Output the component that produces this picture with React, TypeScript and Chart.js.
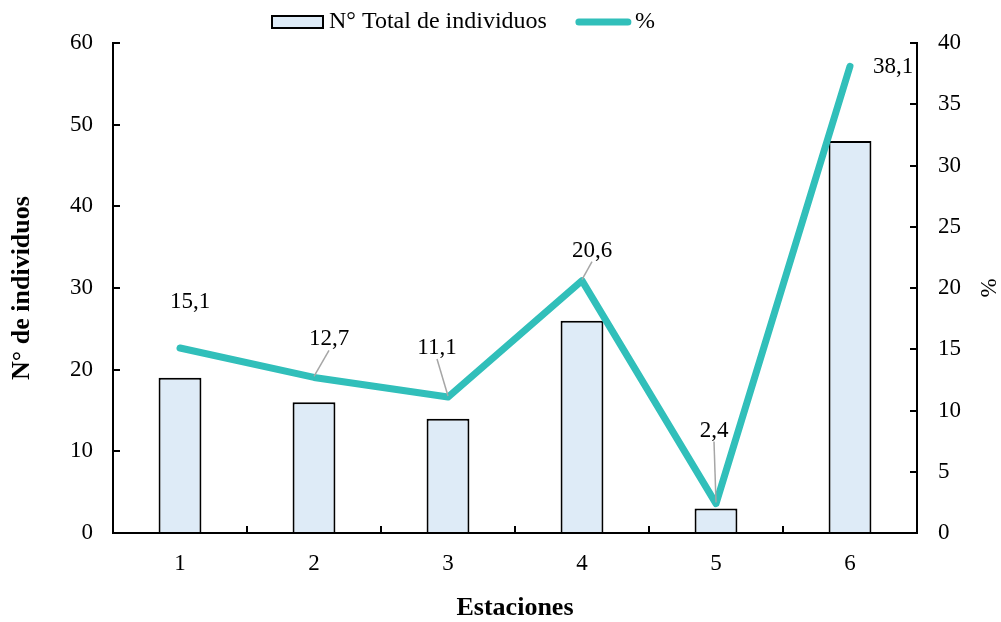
import React, { useEffect, useRef } from "react";
import { Chart, registerables } from "chart.js";

Chart.register(...registerables);

const categories = ["1", "2", "3", "4", "5", "6"];
const totalIndividuos = [19, 16, 14, 26, 3, 48];
const porcentaje = [15.1, 12.7, 11.1, 20.6, 2.4, 38.1];
const barLabel = "N° Total de individuos";
const lineLabel = "%";
const leftTitle = "N° de individuos";
const rightTitle = "%";
const xTitle = "Estaciones";

// label placement (text centre offset from point, optional leader line)
const labelOffsets = [
  { dx: 10, dy: -46, leader: false },
  { dx: 15, dy: -38, leader: true },
  { dx: -11, dy: -49, leader: true },
  { dx: 10, dy: -30, leader: true },
  { dx: -2, dy: -73, leader: true },
  { dx: 43, dy: 1, leader: false },
];

const FONT = "'Liberation Serif', 'Times New Roman', serif";
const TEAL = "#31BFBA";
const BAR_FILL = "#DEEBF7";

const overlayPlugin = {
  id: "overlay",
  afterDatasetsDraw(chart: any) {
    const ctx = chart.ctx;
    const meta = chart.getDatasetMeta(0);
    ctx.save();
    ctx.font = `23px ${FONT}`;
    ctx.textAlign = "center";
    ctx.textBaseline = "middle";
    meta.data.forEach((pt: any, i: number) => {
      const o = labelOffsets[i];
      const tx = pt.x + o.dx;
      const ty = pt.y + o.dy;
      if (o.leader) {
        ctx.strokeStyle = "#A6A6A6";
        ctx.lineWidth = 1.5;
        ctx.beginPath();
        ctx.moveTo(tx, ty + 11);
        ctx.lineTo(pt.x, pt.y - 1);
        ctx.stroke();
      }
      ctx.fillStyle = "#000";
      ctx.fillText(porcentaje[i].toFixed(1).replace(".", ","), tx, ty);
    });
    ctx.restore();
  },
  afterDraw(chart: any) {
    const ctx = chart.ctx;
    ctx.save();
    // legend
    ctx.font = `24px ${FONT}`;
    ctx.textBaseline = "middle";
    ctx.textAlign = "left";
    const ly = 22;
    const x0 = 272;
    ctx.fillStyle = BAR_FILL;
    ctx.fillRect(x0, ly - 6, 51, 12);
    ctx.strokeStyle = "#000";
    ctx.lineWidth = 2;
    ctx.strokeRect(x0, ly - 6, 51, 12);
    ctx.fillStyle = "#000";
    const t1x = x0 + 57;
    ctx.fillText(barLabel, t1x, ly);
    const t1w = ctx.measureText(barLabel).width;
    const l0 = t1x + t1w + 32;
    ctx.strokeStyle = TEAL;
    ctx.lineWidth = 7;
    ctx.lineCap = "round";
    ctx.beginPath();
    ctx.moveTo(l0, ly);
    ctx.lineTo(l0 + 49, ly);
    ctx.stroke();
    ctx.fillText(lineLabel, l0 + 56, ly);
    // right axis title
    const ca = chart.chartArea;
    ctx.font = `23px ${FONT}`;
    ctx.translate(990, (ca.top + ca.bottom) / 2);
    ctx.rotate(-Math.PI / 2);
    ctx.textAlign = "center";
    ctx.fillText(rightTitle, 0, 0);
    ctx.restore();
  },
};

export default function App() {
  const ref = useRef<HTMLCanvasElement | null>(null);
  useEffect(() => {
    if (!ref.current) return;
    const tickFont = { family: FONT, size: 23 };
    const titleFont = { family: FONT, size: 26, weight: "bold" };
    const chart = new Chart(ref.current, {
      data: {
        labels: categories,
        datasets: [
          {
            type: "line",
            label: lineLabel,
            data: porcentaje,
            yAxisID: "y1",
            borderColor: TEAL,
            backgroundColor: TEAL,
            borderWidth: 7,
            borderCapStyle: "round",
            borderJoinStyle: "round",
            pointRadius: 0,
            tension: 0,
            order: 0,
          } as any,
          {
            type: "bar",
            label: barLabel,
            data: totalIndividuos,
            yAxisID: "y",
            backgroundColor: BAR_FILL,
            borderColor: "#000",
            borderWidth: 2,
            barPercentage: 0.32,
            categoryPercentage: 1,
            order: 1,
          } as any,
        ],
      },
      options: {
        responsive: false,
        animation: false,
        layout: { padding: { top: 43, left: 0, right: 0, bottom: 0 } },
        plugins: {
          legend: { display: false },
          tooltip: { enabled: false },
        },
        scales: {
          x: {
            type: "category",
            offset: true,
            grid: {
              offset: true,
              drawOnChartArea: false,
              tickLength: -7,
              color: "#000",
              lineWidth: 2,
            },
            border: { color: "#000", width: 2 },
            ticks: { color: "#000", font: tickFont, padding: 24, maxRotation: 0 },
            title: {
              display: true,
              text: xTitle,
              color: "#000",
              font: titleFont,
              padding: { top: 0, bottom: -2 },
            },
            afterFit(scale: any) {
              scale.height = 89;
            },
          },
          y: {
            type: "linear",
            position: "left",
            min: 0,
            max: 60,
            ticks: { stepSize: 10, color: "#000", font: tickFont, padding: 27 },
            grid: {
              drawOnChartArea: false,
              tickLength: -7,
              color: "#000",
              lineWidth: 2,
            },
            border: { color: "#000", width: 2 },
            title: {
              display: true,
              text: leftTitle,
              color: "#000",
              font: titleFont,
              padding: { top: 7, bottom: 0 },
            },
            afterFit(scale: any) {
              scale.width = 113;
            },
          },
          y1: {
            type: "linear",
            position: "right",
            min: 0,
            max: 40,
            ticks: { stepSize: 5, color: "#000", font: tickFont, padding: 28 },
            grid: {
              drawOnChartArea: false,
              tickLength: -7,
              color: "#000",
              lineWidth: 2,
            },
            border: { color: "#000", width: 2 },
            afterFit(scale: any) {
              scale.width = 84;
            },
          },
        },
      } as any,
      plugins: [overlayPlugin],
    });
    return () => chart.destroy();
  }, []);
  return (
    <div style={{ position: "absolute", left: 0, top: 0, width: 1001, height: 622, background: "#fff" }}>
      <canvas ref={ref} width={1001} height={622} style={{ display: "block" }} />
    </div>
  );
}
